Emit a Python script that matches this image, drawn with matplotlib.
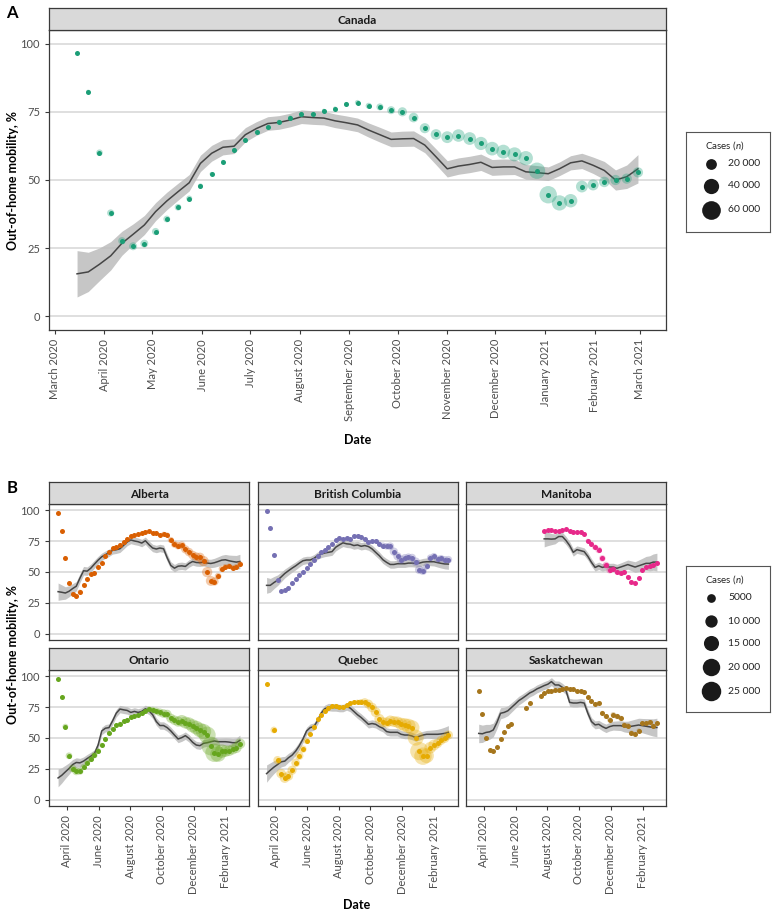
import numpy as np
import matplotlib.pyplot as plt
import matplotlib.dates as mdates

plt.rcParams['font.family'] = ['Lato', 'DejaVu Sans']
plt.rcParams['mathtext.fontset'] = 'custom'
plt.rcParams['mathtext.rm'] = 'Lato'
plt.rcParams['mathtext.it'] = 'Lato:italic'

W, H = 777, 916

# weekly observations, 15 March 2020 to 28 February 2021
weeks = mdates.date2num(np.arange(np.datetime64('2020-03-15'), np.datetime64('2021-03-01'),
                                  np.timedelta64(7, 'D')))
nan = np.nan

# ---- Panel A: Canada ----
canada_mob = [96.5, 82.3, 60.0, 37.9, 27.7, 25.7, 26.7, 31.1, 35.7, 40.0,
              43.2, 47.8, 52.2, 56.7, 61.1, 64.8, 67.6, 69.3, 71.3, 72.9,
              74.3, 74.1, 75.4, 76.2, 77.8, 78.4, 77.2, 76.8, 75.6, 75.0,
              72.9, 69.0, 66.7, 65.7, 66.3, 65.2, 63.4, 61.5, 60.4, 59.4,
              58.0, 53.4, 44.6, 41.6, 42.4, 47.6, 48.2, 49.3, 50.0, 50.5, 52.8]
canada_fit = [15.6, 16.3, 19.1, 22.2, 26.8, 30.1, 33.5, 38.4, 42.3, 45.7,
              49.0, 56.1, 59.8, 62.0, 62.4, 66.6, 68.9, 70.7, 71.1, 72.0,
              73.2, 72.9, 72.7, 71.7, 71.0, 70.2, 68.3, 66.6, 64.9, 65.1,
              65.2, 62.8, 58.5, 54.1, 55.1, 55.7, 56.5, 54.6, 54.8, 54.8,
              53.0, 52.7, 52.3, 54.1, 56.3, 57.0, 55.4, 53.5, 50.0, 51.2, 54.1]
canada_ci = [8.5, 7.2, 6.0, 5.2, 4.4, 3.8, 3.5, 3.3, 3.2, 3.1,
             3.0, 3.0, 2.9, 2.8, 2.7, 2.6, 2.5, 2.5, 2.5, 2.5,
             2.5, 2.5, 2.5, 2.5, 2.5, 2.5, 2.6, 2.7, 2.7, 2.8,
             2.8, 2.8, 2.9, 3.0, 3.0, 3.0, 3.0, 2.9, 2.9, 2.8,
             2.7, 2.6, 2.5, 2.5, 2.6, 2.8, 3.0, 3.3, 3.7, 4.3, 5.2]
canada_cases = [1000, 3500, 7500, 9000, 9500, 11000, 10500, 9000, 8000, 7600,
                6200, 4600, 3100, 2500, 2400, 2000, 2200, 2600, 3300, 3100,
                2700, 2700, 2800, 3000, 3600, 4700, 6500, 8500, 11000, 14500,
                16000, 17500, 19500, 24000, 27000, 28000, 30000, 32000, 33000, 34000,
                35000, 46000, 52000, 40000, 31000, 24000, 21000, 19000, 18000, 18000, 18000]

# ---- Panel B: provinces ----
alberta_mob = [98.1, 82.9, 61.5, 41.2, 32.5, 30.6, 33.9, 39.6, 44.4, 48.5,
               49.1, 53.9, 57.2, 62.6, 65.9, 69.1, 70.2, 72.1, 74.0, 76.7,
               78.9, 79.7, 80.8, 81.6, 82.4, 82.9, 81.6, 81.3, 79.9, 80.8,
               79.9, 75.9, 72.4, 71.3, 71.5, 68.3, 66.1, 63.7, 62.3, 61.8,
               58.8, 49.9, 42.8, 42.3, 46.6, 52.6, 54.2, 54.7, 53.4, 54.2, 56.4]
alberta_fit = [34.1, 33.6, 33.0, 34.4, 36.6, 38.5, 45.0, 51.0, 50.7, 53.1,
               56.4, 59.6, 62.3, 64.0, 65.6, 67.5, 68.0, 68.8, 71.5, 74.3,
               75.9, 75.1, 74.5, 73.4, 75.3, 72.1, 69.4, 68.6, 69.4, 68.8,
               61.5, 55.3, 53.1, 54.7, 55.0, 54.5, 56.9, 58.5, 57.7, 57.5,
               58.0, 57.2, 56.9, 57.5, 58.5, 59.6, 59.9, 59.1, 58.5, 58.0, 58.5]
alberta_ci = [7.0, 6.0, 5.0, 4.5, 4.0, 3.8, 3.6, 3.5, 3.4, 3.3,
              3.2, 3.1, 3.0, 3.0, 3.0, 3.0, 3.0, 3.0, 3.0, 3.0,
              3.0, 3.0, 3.0, 3.0, 3.0, 3.0, 3.0, 3.0, 3.0, 3.0,
              3.0, 3.0, 3.0, 3.0, 3.0, 3.0, 3.0, 3.0, 3.0, 3.0,
              3.0, 3.2, 3.4, 3.6, 3.8, 4.0, 4.3, 4.6, 5.0, 5.4, 5.8]
alberta_cases = [150, 400, 500, 500, 700, 1500, 1500, 600, 400, 200,
                 150, 200, 200, 250, 300, 400, 500, 700, 800, 800,
                 700, 600, 600, 700, 850, 850, 900, 1000, 1100, 1300,
                 1800, 2500, 3200, 3800, 4200, 4500, 4800, 5000, 5200, 6000,
                 7000, 7000, 6500, 4500, 3000, 2500, 2200, 2000, 2000, 2200, 2200]

bc_mob = [99.2, 85.8, 63.8, 43.6, 34.3, 35.4, 37.3, 40.9, 44.1, 47.4,
          50.1, 53.1, 56.4, 59.4, 62.7, 65.9, 68.1, 70.0, 72.8, 75.7,
          77.7, 76.8, 77.4, 76.8, 79.0, 79.3, 78.7, 76.3, 74.1, 74.7,
          74.7, 72.8, 71.4, 70.8, 70.8, 66.5, 62.7, 59.9, 61.6, 62.1,
          61.6, 58.3, 51.8, 50.7, 54.5, 61.6, 62.7, 60.5, 61.0, 60.0, 60.0]
bc_fit = [39.2, 39.2, 41.4, 43.3, 46.0, 48.8, 51.0, 53.1, 55.0, 57.2,
          59.1, 59.7, 59.7, 61.0, 63.2, 64.6, 65.4, 65.9, 66.5, 70.0,
          71.9, 73.6, 72.8, 72.5, 71.4, 71.9, 70.8, 71.4, 70.6, 68.7,
          65.9, 63.2, 59.9, 57.8, 56.1, 56.1, 56.7, 56.7, 56.7, 57.2,
          57.2, 56.9, 57.2, 58.0, 58.3, 58.3, 58.3, 57.6, 57.0, 56.5, 56.4]
bc_ci = [6.4, 5.6, 4.9, 4.3, 3.9, 3.6, 3.4, 3.3, 3.2, 3.1,
         3.0, 3.0, 3.0, 3.0, 3.0, 3.0, 3.0, 3.0, 3.0, 3.0,
         3.0, 3.0, 3.0, 3.0, 3.0, 3.0, 3.0, 3.0, 3.0, 3.0,
         3.0, 3.0, 3.0, 3.0, 3.0, 3.0, 3.0, 3.0, 3.0, 3.0,
         3.0, 3.0, 3.0, 3.0, 3.1, 3.2, 3.4, 3.6, 3.8, 4.0, 4.2]
bc_cases = [250, 500, 350, 250, 250, 250, 150, 150, 100, 100,
            100, 100, 80, 80, 100, 150, 200, 250, 300, 350,
            450, 500, 600, 650, 700, 700, 650, 700, 700, 900,
            1200, 1500, 2500, 3000, 4000, 4500, 4500, 4500, 3500, 3500,
            4000, 5000, 5000, 4000, 3000, 2800, 3000, 3200, 3200, 3500, 3700]

manitoba_mob = [nan, nan, nan, nan, nan, nan, nan, nan, nan, nan,
                nan, nan, nan, nan, nan, nan, nan, nan, nan, 83.1,
                83.9, 83.7, 83.1, 82.8, 83.7, 84.5, 82.8, 82.6, 82.3, 82.3,
                80.7, 75.2, 72.8, 70.0, 67.8, 61.0, 55.6, 51.5, 52.3, 50.0,
                49.0, 50.0, 46.0, 42.0, 41.0, 45.0, 52.0, 54.0, 55.0, 56.0, 57.0]
manitoba_fit = [nan, nan, nan, nan, nan, nan, nan, nan, nan, nan,
                nan, nan, nan, nan, nan, nan, nan, nan, nan, 76.8,
                76.8, 76.6, 76.8, 78.7, 78.7, 75.5, 71.4, 65.9, 68.1, 67.3,
                66.5, 62.7, 57.8, 53.7, 55.0, 53.7, 54.5, 54.0, 54.0, 53.0,
                54.0, 55.0, 56.0, 55.0, 54.0, 55.0, 56.0, 57.0, 57.0, 58.0, 58.0]
manitoba_ci = [nan, nan, nan, nan, nan, nan, nan, nan, nan, nan,
               nan, nan, nan, nan, nan, nan, nan, nan, nan, 6.5,
               5.5, 4.5, 4.0, 3.6, 3.4, 3.3, 3.2, 3.1, 3.0, 3.0,
               3.0, 3.0, 3.0, 3.0, 3.0, 3.0, 3.0, 3.0, 3.1, 3.2,
               3.3, 3.5, 3.7, 4.0, 4.3, 4.7, 5.1, 5.6, 6.1, 6.6, 7.2]
manitoba_cases = [0, 0, 0, 0, 0, 0, 0, 0, 0, 0,
                  0, 0, 0, 0, 0, 0, 0, 0, 0, 50,
                  100, 150, 200, 300, 250, 200, 250, 350, 500, 700,
                  900, 1200, 1600, 2200, 2800, 2800, 3000, 2900, 2300, 1900,
                  1500, 1100, 1000, 900, 700, 600, 500, 450, 450, 400, 400]

ontario_mob = [97.6, 82.9, 59.2, 35.6, 25.3, 23.1, 23.1, 26.6, 29.9, 32.9,
               36.1, 39.4, 44.3, 48.9, 53.8, 57.3, 60.3, 61.7, 63.6, 64.9,
               66.6, 67.9, 68.8, 70.1, 72.0, 73.4, 72.8, 71.7, 70.7, 69.8,
               69.3, 66.0, 64.4, 63.3, 63.9, 62.5, 61.7, 59.8, 58.4, 56.5,
               55.2, 52.4, 43.5, 38.0, 37.0, 39.4, 39.4, 39.7, 40.8, 42.1, 45.4]
ontario_fit = [17.7, 19.8, 22.6, 25.3, 28.5, 30.2, 29.9, 31.3, 33.4, 35.3,
               37.5, 44.3, 55.7, 57.9, 58.4, 63.9, 70.1, 73.4, 72.8, 72.3,
               70.7, 71.5, 70.7, 71.5, 73.6, 72.0, 68.8, 63.3, 60.1, 60.1,
               58.4, 55.7, 52.4, 49.2, 50.3, 51.9, 49.7, 46.5, 44.3, 43.8,
               45.7, 46.2, 47.0, 47.6, 47.0, 47.0, 47.0, 46.7, 46.2, 46.2, 48.1]
ontario_ci = [7.2, 6.2, 5.3, 4.6, 4.1, 3.8, 3.6, 3.4, 3.3, 3.2,
              3.0, 3.0, 3.0, 3.0, 3.0, 3.0, 3.0, 3.0, 3.0, 3.0,
              3.0, 3.0, 3.0, 3.0, 3.0, 3.0, 3.0, 3.0, 3.0, 3.0,
              3.0, 3.0, 3.0, 3.0, 3.0, 3.0, 3.0, 3.0, 3.0, 3.0,
              3.0, 3.0, 3.0, 3.0, 3.0, 3.1, 3.2, 3.4, 3.6, 3.9, 4.2]
ontario_cases = [200, 800, 2200, 3000, 3800, 4200, 3300, 2500, 2300, 2400,
                 2600, 2200, 1400, 1300, 1200, 1000, 1000, 900, 900, 800,
                 700, 700, 700, 900, 1200, 1800, 2500, 3500, 4200, 5000,
                 5100, 5600, 6000, 7000, 9000, 9500, 10000, 11500, 12500, 14000,
                 15500, 19000, 23000, 22000, 16000, 12000, 9000, 7500, 7000, 7500, 7500]

quebec_mob = [93.8, nan, 56.5, 32.1, 21.2, 17.7, 19.3, 23.9, 29.9, 35.6,
              41.0, 47.6, 53.0, 59.2, 65.5, 68.8, 72.0, 74.2, 75.8, 76.1,
              75.3, 75.3, 76.4, 78.3, 78.8, 79.1, 79.1, 79.1, 77.4, 74.7,
              70.9, 65.5, 62.8, 62.5, 63.9, 63.3, 62.8, 61.4, 60.6, 59.8,
              58.4, 50.3, 39.4, 35.3, 35.6, 42.1, 44.3, 45.7, 48.1, 49.7, 52.4]
quebec_fit = [21.2, 23.9, 26.4, 28.5, 30.7, 31.3, 34.0, 36.1, 39.4, 43.8,
              49.2, 55.7, 58.4, 59.2, 63.9, 70.1, 73.6, 75.0, 74.7, 74.7,
              74.2, 74.2, 75.5, 74.2, 71.5, 68.8, 66.6, 63.9, 61.1, 61.7,
              61.1, 59.2, 57.9, 55.2, 54.6, 54.6, 54.6, 53.0, 52.4, 52.4,
              51.6, 50.3, 51.4, 52.4, 53.0, 53.0, 53.0, 53.0, 53.3, 53.8, 54.6]
quebec_ci = [7.0, 6.0, 5.2, 4.6, 4.1, 3.8, 3.6, 3.4, 3.3, 3.2,
             3.0, 3.0, 3.0, 3.0, 3.0, 3.0, 3.0, 3.0, 3.0, 3.0,
             3.0, 3.0, 3.0, 3.0, 3.0, 3.0, 3.0, 3.0, 3.0, 3.0,
             3.0, 3.0, 3.0, 3.0, 3.0, 3.0, 3.0, 3.0, 3.0, 3.0,
             3.0, 3.0, 3.0, 3.0, 3.1, 3.3, 3.6, 4.0, 4.5, 5.0, 5.4]
quebec_cases = [100, 1500, 3000, 4500, 6000, 6500, 6000, 5500, 5000, 4500,
                3600, 2500, 1200, 900, 600, 500, 600, 800, 900, 900,
                700, 700, 700, 900, 1200, 1600, 2400, 4000, 5500, 6000,
                6500, 6500, 6500, 7000, 7500, 8000, 8500, 10000, 12000, 13500,
                14500, 17000, 22000, 20000, 14000, 9000, 8000, 6000, 5500, 5500, 5500]

sask_mob = [nan, 87.8, 69.3, 50.3, 40.2, 39.4, 42.9, 49.5, 54.6, 59.5,
            61.7, nan, nan, nan, 74.0, 78.1, nan, nan, 84.2, 86.1,
            87.8, 88.3, 88.6, 88.6, 89.5, 90.5, 89.7, 89.7, 88.3, 88.3,
            87.2, 82.9, 80.2, 77.4, 78.0, 70.1, 67.4, 64.7, 68.8, 67.4,
            66.0, 60.6, 60.0, 54.0, 53.0, 56.0, 62.0, 62.0, 63.0, 60.0, 62.0]
sask_fit = [nan, 53.7, 53.4, 54.5, 55.0, 56.5, 62.5, 70.0, 70.7, 72.0,
            74.7, 77.4, 80.2, 82.1, 84.2, 86.4, 87.8, 89.7, 91.0, 92.4,
            93.5, 95.6, 92.9, 92.9, 91.0, 88.3, 78.8, 78.3, 78.3, 78.8,
            78.3, 70.1, 63.3, 60.6, 61.1, 59.2, 57.8, 59.2, 60.0, 60.0,
            60.0, 59.2, 59.0, 59.5, 60.0, 60.5, 60.0, 59.5, 59.0, 58.5, 58.5]
sask_ci = [nan, 7.5, 7.0, 6.5, 6.0, 5.5, 5.0, 4.5, 4.2, 4.0,
           3.8, 3.6, 3.5, 3.4, 3.3, 3.2, 3.2, 3.2, 3.2, 3.2,
           3.2, 3.2, 3.2, 3.2, 3.2, 3.2, 3.2, 3.2, 3.2, 3.2,
           3.2, 3.2, 3.2, 3.2, 3.2, 3.3, 3.4, 3.5, 3.6, 3.8,
           4.0, 4.3, 4.6, 4.9, 5.2, 5.5, 5.8, 6.2, 6.6, 7.0, 7.5]
sask_cases = [0, 30, 80, 100, 60, 60, 80, 60, 40, 50,
              50, 30, 20, 20, 30, 60, 150, 250, 300, 250,
              150, 100, 100, 100, 120, 150, 150, 200, 250, 350,
              450, 600, 900, 1100, 1300, 1500, 1600, 1800, 2000, 2000,
              1800, 1500, 1800, 1700, 1600, 1300, 1000, 900, 900, 900, 900]

provinces = ['Alberta', 'British Columbia', 'Manitoba', 'Ontario', 'Quebec', 'Saskatchewan']
prov_mob = [alberta_mob, bc_mob, manitoba_mob, ontario_mob, quebec_mob, sask_mob]
prov_fit = [alberta_fit, bc_fit, manitoba_fit, ontario_fit, quebec_fit, sask_fit]
prov_ci = [alberta_ci, bc_ci, manitoba_ci, ontario_ci, quebec_ci, sask_ci]
prov_cases = [alberta_cases, bc_cases, manitoba_cases, ontario_cases, quebec_cases, sask_cases]
prov_colors = ['#d95f02', '#7570b3', '#e7298a', '#66a61e', '#e6ab02', '#a6761d']

a_ticks = ['2020-03-01', '2020-04-01', '2020-05-01', '2020-06-01', '2020-07-01', '2020-08-01',
           '2020-09-01', '2020-10-01', '2020-11-01', '2020-12-01', '2021-01-01', '2021-02-01',
           '2021-03-01']
a_tick_labels = ['March 2020', 'April 2020', 'May 2020', 'June 2020', 'July 2020', 'August 2020',
                 'September 2020', 'October 2020', 'November 2020', 'December 2020',
                 'January 2021', 'February 2021', 'March 2021']
b_ticks = ['2020-04-01', '2020-06-01', '2020-08-01', '2020-10-01', '2020-12-01', '2021-02-01']
b_tick_labels = ['April 2020', 'June 2020', 'August 2020', 'October 2020', 'December 2020',
                 'February 2021']

a_legend = [20000, 40000, 60000]
a_legend_labels = ['20 000', '40 000', '60 000']
b_legend = [5000, 10000, 15000, 20000, 25000]
b_legend_labels = ['5000', '10 000', '15 000', '20 000', '25 000']

# size scales: area proportional to weekly cases
A_SMAX, A_CMAX = 181, 60000
B_SMAX, B_CMAX = 197, 25000

TICK_COLOR = '#4d4d4d'
EDGE = '#3a3a3a'


def box(l, t, r, b):
    return [l / W, 1 - b / H, (r - l) / W, (b - t) / H]


def draw_panel(ax, mob, fit, ci, cases, color, smax, cmax, dot):
    mob = np.array(mob, float)
    fit = np.array(fit, float)
    ci = np.array(ci, float)
    cases = np.array(cases, float)
    ax.fill_between(weeks, fit - ci, fit + ci, color='#bcbcbc', alpha=0.85, lw=0, zorder=2)
    ax.plot(weeks, fit, color='#454545', lw=1.1, zorder=3)
    ok = ~np.isnan(mob)
    ax.scatter(weeks[ok], mob[ok], s=smax * cases[ok] / cmax, color=color, alpha=0.33,
               lw=0, zorder=4)
    ax.scatter(weeks[ok], mob[ok], s=dot, color=color, lw=0, zorder=5)


def style_panel(ax, ticks, labels, show_x, show_y, fs):
    span = weeks[-1] - weeks[0]
    ax.set_xlim(weeks[0] - 0.05 * span, weeks[-1] + 0.05 * span)
    ax.set_ylim(-5, 105)
    ax.set_yticks([0, 25, 50, 75, 100])
    ax.set_xticks(mdates.date2num(np.array(ticks, dtype='datetime64[D]')))
    ax.yaxis.grid(True, color='#d6d6d6', lw=1.1)
    ax.set_axisbelow(True)
    for sp in ax.spines.values():
        sp.set_color(EDGE)
        sp.set_linewidth(0.9)
    ax.tick_params(colors=EDGE, length=3, width=0.8, labelcolor=TICK_COLOR, labelsize=fs)
    if show_x:
        ax.set_xticklabels(labels, rotation=90)
    else:
        ax.tick_params(axis='x', length=0, labelbottom=False)
    if not show_y:
        ax.tick_params(axis='y', length=0, labelleft=False)


def strip(rect, title):
    s = fig.add_axes(rect)
    s.set_facecolor('#d9d9d9')
    s.set_xticks([])
    s.set_yticks([])
    for sp in s.spines.values():
        sp.set_color(EDGE)
        sp.set_linewidth(0.9)
    s.text(0.5, 0.45, title, ha='center', va='center', fontsize=8.5, fontweight='bold',
           color='#1a1a1a')


def size_legend(l, t, r, b, title_y, rows_y, values, labels, smax, cmax):
    lg = fig.add_axes(box(l, t, r, b))
    lg.set_xlim(l, r)
    lg.set_ylim(b, t)
    lg.set_xticks([])
    lg.set_yticks([])
    for sp in lg.spines.values():
        sp.set_color('#555555')
        sp.set_linewidth(0.8)
    lg.text(705, title_y, 'Cases ($\\mathit{n}$)', ha='left', va='center', fontsize=7,
            color='#222222')
    for y, v, lab in zip(rows_y, values, labels):
        lg.scatter([711], [y], s=smax * v / cmax, color='#1a1a1a', lw=0)
        lg.text(728, y, lab, ha='left', va='center', fontsize=7.5, color='#222222')


fig = plt.figure(figsize=(W / 100, H / 100), dpi=100)

# Panel A
axA = fig.add_axes(box(49, 30, 666, 330))
draw_panel(axA, canada_mob, canada_fit, canada_ci, canada_cases, '#1b9e77', A_SMAX, A_CMAX, 13)
style_panel(axA, a_ticks, a_tick_labels, True, True, 8)
strip(box(49, 8, 666, 30), 'Canada')
axA.set_xlabel('Date', fontsize=9, fontweight='bold', labelpad=9)
fig.text(13 / W, 1 - 180 / H, 'Out-of-home mobility, %', fontsize=9, fontweight='bold',
         rotation=90, ha='center', va='center')
fig.text(12 / W, 1 - 13 / H, 'A', fontsize=12, fontweight='bold', ha='center', va='center')
size_legend(686, 132, 770, 232, 146, [164, 186, 210], a_legend, a_legend_labels,
            A_SMAX, A_CMAX)

# Panel B
cols = [(49, 249), (257.5, 457.5), (466, 666)]
rows = [(482, 504, 640), (648, 670, 806)]
for k, name in enumerate(provinces):
    r, c = divmod(k, 3)
    st, pt, pb = rows[r]
    cl, cr = cols[c]
    ax = fig.add_axes(box(cl, pt, cr, pb))
    draw_panel(ax, prov_mob[k], prov_fit[k], prov_ci[k], prov_cases[k], prov_colors[k],
               B_SMAX, B_CMAX, 13)
    style_panel(ax, b_ticks, b_tick_labels, r == 1, c == 0, 8)
    strip(box(cl, st, cr, pt), name)

fig.text(12 / W, 1 - 488 / H, 'B', fontsize=12, fontweight='bold', ha='center', va='center')
fig.text(13 / W, 1 - 655 / H, 'Out-of-home mobility, %', fontsize=9, fontweight='bold',
         rotation=90, ha='center', va='center')
fig.text(357 / W, 1 - 905 / H, 'Date', fontsize=9, fontweight='bold', ha='center', va='center')
size_legend(686, 566, 770, 712, 580, [598, 621, 643, 667, 691], b_legend, b_legend_labels,
            B_SMAX, B_CMAX)

fig.savefig('out.png', dpi=100)
